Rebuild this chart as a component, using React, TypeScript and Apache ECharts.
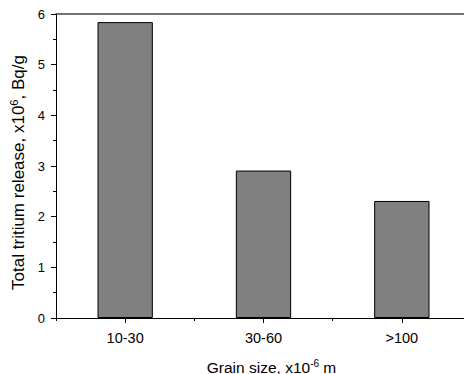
import React, { useEffect, useRef } from "react";
import * as echarts from "echarts";

const categories = ["10-30", "30-60", ">100"];
const releaseValues = [5.84, 2.91, 2.31];
const yTicks = [0, 1, 2, 3, 4, 5, 6];

export default function App() {
  const ref = useRef<HTMLDivElement>(null);
  useEffect(() => {
    if (!ref.current) return;
    const chart = echarts.init(ref.current, null, { renderer: "svg" });
    const font = "Liberation Sans, Arial, sans-serif";
    const axisColor = "#000";
    chart.setOption({
      animation: false,
      backgroundColor: "#fff",
      grid: { left: 56, top: 14, right: -7, bottom: 56, containLabel: false, outerBoundsMode: "none" },
      xAxis: [
        {
          type: "category",
          data: categories,
          position: "bottom",
          axisLine: { show: true, lineStyle: { color: axisColor, width: 1 } },
          axisTick: { show: true, alignWithLabel: true, length: 5, lineStyle: { color: axisColor } },
          axisLabel: { color: "#000", fontFamily: font, fontSize: 14.5, margin: 12 },
          name: "{a|Grain size, x10}{s|-6}{a| m}",
          nameLocation: "middle",
          nameGap: 40,
          nameTextStyle: {
            padding: [0, 0, 0, 16],
            rich: {
              a: { fontFamily: font, fontSize: 15.5, color: "#000" },
              s: { fontFamily: font, fontSize: 10, color: "#000", verticalAlign: "top", padding: [0, 0, 8, 0] },
            },
          },
          splitLine: { show: false },
        },
        {
          type: "category",
          data: categories,
          position: "bottom",
          axisLine: { show: false },
          axisTick: { show: true, alignWithLabel: false, length: 3, lineStyle: { color: axisColor } },
          axisLabel: { show: false },
          splitLine: { show: false },
        },
        {
          type: "category",
          data: categories,
          position: "top",
          axisLine: { show: true, lineStyle: { color: "#444", width: 1.5 } },
          axisTick: { show: false },
          axisLabel: { show: false },
          splitLine: { show: false },
        },
      ],
      yAxis: {
        type: "value",
        min: yTicks[0],
        max: yTicks[yTicks.length - 1],
        interval: 1,
        axisLine: { show: true, lineStyle: { color: axisColor, width: 1 } },
        axisTick: { show: true, inside: false, length: 5, lineStyle: { color: axisColor } },
        minorTick: { show: true, splitNumber: 2, length: 3, lineStyle: { color: axisColor } },
        axisLabel: { color: "#000", fontFamily: font, fontSize: 13, margin: 11 },
        splitLine: { show: false },
        name: "{a|Total tritium release, x10}{s|6}{a|, Bq/g}",
        nameLocation: "middle",
        nameGap: 24,
        nameRotate: 90,
        nameTextStyle: {
          padding: [0, 13, 0, 0],
          rich: {
            a: { fontFamily: font, fontSize: 17, color: "#000" },
            s: { fontFamily: font, fontSize: 11, color: "#000", verticalAlign: "top", padding: [0, 0, 9, 0] },
          },
        },
      },
      series: [
        {
          type: "bar",
          data: releaseValues,
          xAxisIndex: 0,
          barWidth: "40%",
          itemStyle: { color: "#808080", borderColor: "#000", borderWidth: 1 },
        },
      ],
    });
    return () => chart.dispose();
  }, []);
  return (
    <div
      ref={ref}
      style={{ position: "fixed", left: 0, top: 0, width: 464, height: 374 }}
    />
  );
}
